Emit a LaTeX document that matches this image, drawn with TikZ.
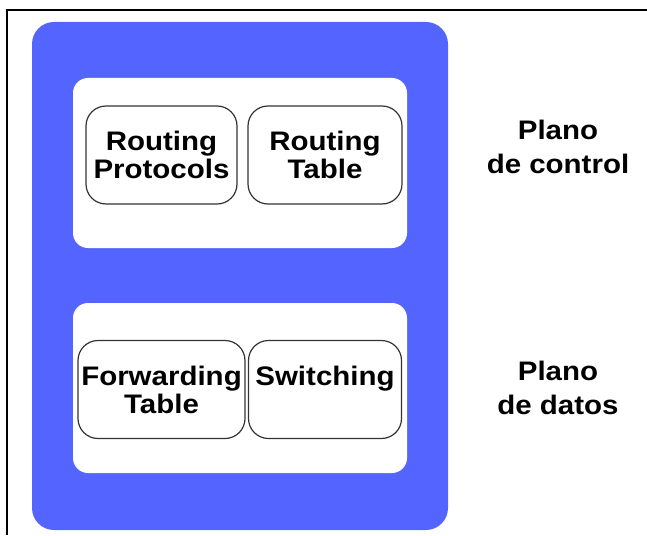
\documentclass[tikz,border=0pt]{standalone}
\usepackage{fontspec}
\setmainfont{Liberation Sans}[FakeStretch=1.1]
\usetikzlibrary{positioning}
\definecolor{routerblue}{RGB}{84,101,255}

\begin{document}
\begin{tikzpicture}[x=0.5pt,y=-0.5pt,node distance=81.75pt,font=\fontsize{13.4}{14}\selectfont\bfseries,inner sep=0pt,outer sep=0pt]

    \tikzstyle{plane}=[fill=white,rounded corners=7.5pt,minimum width=167pt,minimum height=85pt]
    \tikzstyle{round}=[draw=black!80,line width=0.6pt,fill=white,rounded corners=10pt,align=center,minimum height=49pt]
    \tikzstyle{caption}=[align=center,font=\fontsize{13.4}{17}\selectfont\bfseries]

    \useasboundingbox (0,0) rectangle (647,535);
    \draw[line width=1pt] (7,535) -- (7,10) -- (647,10);

    \node[fill=routerblue,rounded corners=11pt,minimum width=208pt,minimum height=254pt] (router) at (240,276) {};
    \node[plane] (control) at (240,163) {};
    \node[plane] (data)    at (240,388) {};

    \node[round,minimum width=75.5pt]                  (protocols)  at (161.5,155)   {Routing\\Protocols};
    \node[round,minimum width=77pt,right of=protocols] (rtable)                      {Routing\\Table};
    \node[round,minimum width=83.5pt]                  (ftable)     at (161.5,389.5) {Forwarding\\Table};
    \node[round,minimum width=76.5pt,right of=ftable]  (switching)                   {Switching\\~};

    \node[caption] (ctrlname) at (558,147)   {Plano\\de control};
    \node[caption] (dataname) at (558,387.5) {Plano\\de datos};

\end{tikzpicture}
\end{document}
